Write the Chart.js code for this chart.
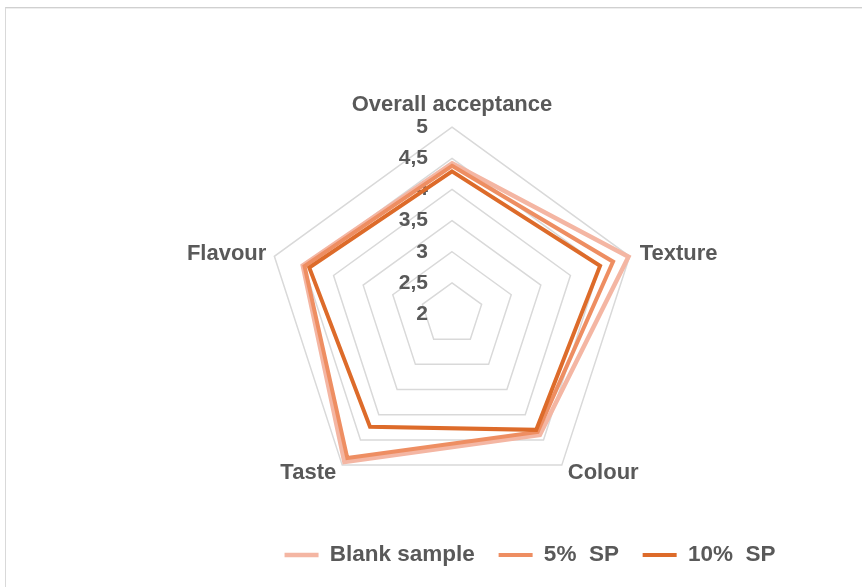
<!DOCTYPE html>
<html>
<head>
<meta charset="utf-8">
<script src="https://cdn.jsdelivr.net/npm/chart.js@4.4.1/dist/chart.umd.min.js"></script>
<style>
    html, body { margin: 0; padding: 0; background: #fff; }
    #frame {
        position: absolute; left: 5px; top: 7px; width: 870px; height: 600px;
        border-left: 1px solid #d9d9d9; border-top: 1px solid #d0d0d0;
        box-shadow: inset 0 1px 0 #eeeeee;
    }
    #wrap { position: absolute; left: 0; top: 0; width: 862px; height: 587px; }
</style>
</head>
<body>
<div id="frame"></div>
<div id="wrap"><canvas id="sensoryChart"></canvas></div>
<script>
const attributes = ['Overall acceptance', 'Texture', 'Colour', 'Taste', 'Flavour'];
const blankSample = [4.42, 4.98, 4.40, 4.94, 4.52];
const sp5 = [4.38, 4.72, 4.34, 4.86, 4.49];
const sp10 = [4.29, 4.50, 4.30, 4.24, 4.41];
const tickValues = [2, 2.5, 3, 3.5, 4, 4.5, 5];
const tickLabels = ['2', '2,5', '3', '3,5', '4', '4,5', '5'];

Chart.defaults.font.family = "'Liberation Sans', Arial, sans-serif";
Chart.defaults.color = '#595959';

const labelFont = "bold 22px 'Liberation Sans', Arial, sans-serif";

// tick labels sit left of the vertical axis, like in Excel
const leftTicks = {
    id: 'leftTicks',
    beforeDatasetsDraw(chart) {
        const scale = chart.scales.r;
        const ctx = chart.ctx;
        ctx.save();
        ctx.font = "bold 21px 'Liberation Sans', Arial, sans-serif";
        ctx.fillStyle = '#595959';
        ctx.textAlign = 'right';
        ctx.textBaseline = 'middle';
        tickValues.forEach((v, i) => {
            const y = scale.yCenter - scale.getDistanceFromCenterForValue(v);
            ctx.fillText(tickLabels[i], scale.xCenter - 24, y);
        });
        ctx.restore();
    }
};

// category labels placed the Excel way (side labels level with the vertex)
const excelLabels = {
    id: 'excelLabels',
    afterDraw(chart) {
        const scale = chart.scales.r;
        const ctx = chart.ctx;
        const r = scale.drawingArea;
        ctx.save();
        ctx.font = labelFont;
        ctx.fillStyle = '#595959';
        ctx.textBaseline = 'middle';
        attributes.forEach((name, i) => {
            const p = scale.getPointPosition(i, r);
            let x = p.x, y = p.y, align = 'center';
            if (i === 0) { y = p.y - 22; }
            else if (i === 1) { x = p.x + 10; y = p.y - 2; align = 'left'; }
            else if (i === 2) { x = p.x + 6; y = p.y + 8; align = 'left'; }
            else if (i === 3) { x = p.x - 6; y = p.y + 8; align = 'right'; }
            else { x = p.x - 8; y = p.y - 2; align = 'right'; }
            ctx.textAlign = align;
            ctx.fillText(name, x, y);
        });
        ctx.restore();
    }
};

// legend is off-centre in the original
const shiftLegend = {
    id: 'shiftLegend',
    afterLayout(chart) {
        chart.legend.left += 78;
        chart.legend.right += 78;
    }
};

const ctx = document.getElementById('sensoryChart').getContext('2d');
new Chart(ctx, {
    type: 'radar',
    data: {
        labels: attributes,
        datasets: [
            { label: 'Blank sample', data: blankSample, borderColor: '#F4B6A3', backgroundColor: '#F4B6A3', borderWidth: 4.5, order: 3 },
            { label: '5%  SP', data: sp5, borderColor: '#EE8E62', backgroundColor: '#EE8E62', borderWidth: 4, order: 2 },
            { label: '10%  SP', data: sp10, borderColor: '#DD6B2A', backgroundColor: '#DD6B2A', borderWidth: 4, order: 1 }
        ].map(ds => Object.assign(ds, {
            fill: false, pointRadius: 0, pointHoverRadius: 0, tension: 0, borderCapStyle: 'round'
        }))
    },
    options: {
        responsive: true,
        maintainAspectRatio: false,
        animation: false,
        layout: { padding: { top: 75, left: 42, right: 0, bottom: 10.75 } },
        scales: {
            r: {
                min: 2,
                max: 5,
                ticks: { stepSize: 0.5, display: false },
                angleLines: { display: false },
                grid: { color: '#d9d9d9', lineWidth: 1.5 },
                pointLabels: {
                    // kept for the layout fit, drawn by excelLabels
                    font: { size: 21, weight: 'bold' },
                    color: 'rgba(0,0,0,0)',
                    padding: (c) => (c.index === 2 || c.index === 3) ? -2 : 10
                }
            }
        },
        plugins: {
            legend: {
                position: 'bottom',
                labels: {
                    usePointStyle: true,
                    pointStyle: 'line',
                    pointStyleWidth: 34,
                    boxHeight: 4,
                    padding: 23.75,
                    font: { size: 22.5, weight: 'bold' },
                    color: '#595959',
                    sort: (a, b) => a.datasetIndex - b.datasetIndex
                }
            },
            tooltip: { enabled: false }
        }
    },
    plugins: [leftTicks, excelLabels, shiftLegend]
});
</script>
</body>
</html>
